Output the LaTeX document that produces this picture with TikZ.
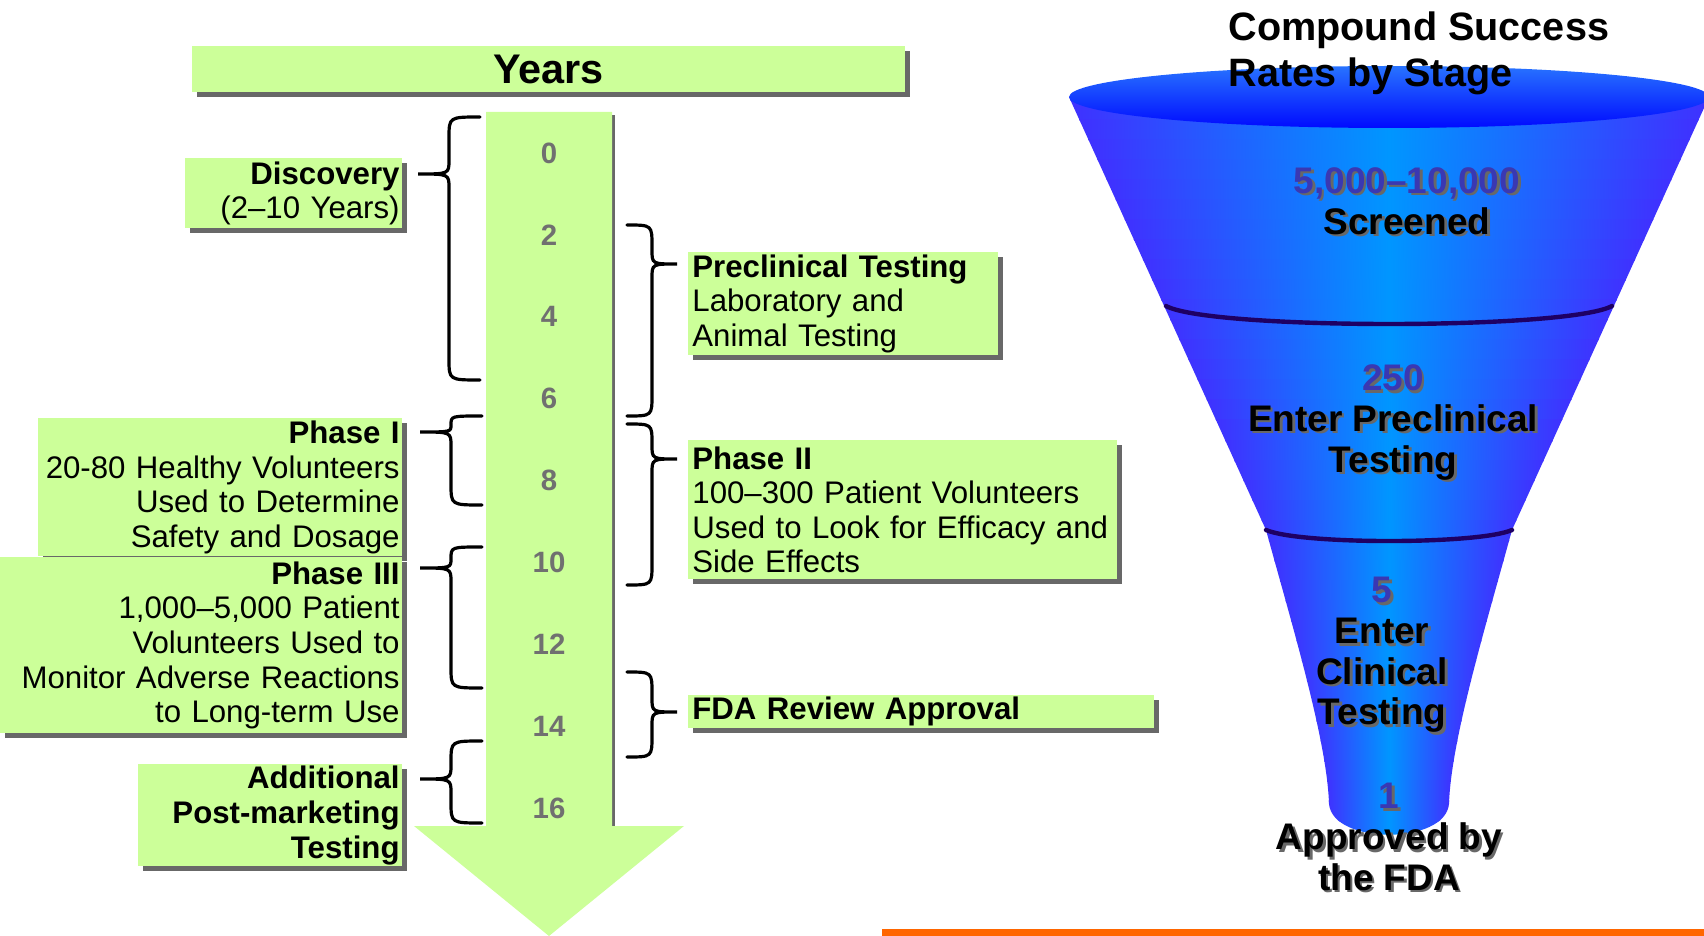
\documentclass[tikz,border=0pt]{standalone}
\usepackage{fontspec}
\setmainfont{Liberation Sans}
\usetikzlibrary{shadows}

\definecolor{boxgreen}{RGB}{204,255,153}
\definecolor{shadowgray}{RGB}{104,104,104}
\definecolor{numgray}{RGB}{112,112,112}
\definecolor{funedge}{RGB}{64,48,255}
\definecolor{funmid}{RGB}{0,150,255}
\definecolor{rimtop}{RGB}{40,115,255}
\definecolor{rimbottom}{RGB}{0,10,255}
\definecolor{ringline}{RGB}{30,0,100}
\definecolor{numblue}{RGB}{58,56,178}
\definecolor{barorange}{RGB}{255,102,0}

\tikzset{
  box/.style={fill=boxgreen, inner ysep=0pt, font={\fontsize{15.6pt}{17.3pt}\selectfont},
    general shadow={fill=shadowgray, shadow xshift=2.5pt, shadow yshift=-2.5pt}},
  lbox/.style={box, align=right, inner xsep=1pt, anchor=north east},
  rbox/.style={box, align=left, inner xsep=2pt, anchor=north west},
  yearnum/.style={text=numgray, font={\bfseries\fontsize{14.7pt}{16pt}\selectfont}},
  stage/.style={align=center, inner sep=0pt, font={\bfseries\fontsize{18.5pt}{20.3pt}\selectfont}},
  bracket/.style={line width=1.6pt, line cap=round},
  ring/.style={ringline, line width=2.2pt, line cap=round}
}

% curly brace: x of the ends, top y, tip y, bottom y, signed depth
\newcommand{\timebrace}[5]{%
  \pgfmathsetmacro\bsp{#1+#5/2}
  \pgfmathsetmacro\btip{#1+#5}
  \pgfmathsetmacro\rtop{min(21,0.55*(#3-#2))}
  \pgfmathsetmacro\ttop{min(14,0.45*(#3-#2))}
  \pgfmathsetmacro\rbot{min(21,0.55*(#4-#3))}
  \pgfmathsetmacro\tbot{min(14,0.45*(#4-#3))}
  \draw[bracket] (#1,#2) .. controls ({\bsp},#2) .. ({\bsp},{#2+\rtop})
    -- ({\bsp},{#3-\ttop}) .. controls ({\bsp},#3) .. ({\btip},#3)
    .. controls ({\bsp},#3) .. ({\bsp},{#3+\tbot})
    -- ({\bsp},{#4-\rbot}) .. controls ({\bsp},#4) .. (#1,#4);
}

% funnel label with a grey drop copy behind it
\newcommand{\stagelabel}[5]{%
  \node[stage, text=shadowgray] at ({#2+2.5},{#3+2.5}) {#4\\#5};
  \node[stage] (#1) at (#2,#3) {\textcolor{numblue}{#4}\\#5};
}

\begin{document}
\begin{tikzpicture}[x=0.5pt,y=-0.5pt]
    \useasboundingbox (0,0) rectangle (1704,936);

    % time axis
    \node[box, minimum width=356.5pt, minimum height=23pt, inner xsep=0pt,
      font={\bfseries\fontsize{20.7pt}{24pt}\selectfont}] (years) at (548.5,69) {Years};
    \fill[shadowgray] (489,115) rectangle (615,826);
    \fill[boxgreen] (486,112) -- (612,112) -- (612,826) -- (684,826) -- (549,936)
      -- (414,826) -- (486,826) -- cycle;
    \foreach \yr [count=\i from 0] in {0,2,...,16}
      \node[yearnum] (yr\yr) at (549,{153+81.9*\i}) {\yr};

    % braces
    \timebrace{480}{117}{174}{380}{-62}
    \timebrace{482}{416}{432}{505}{-62}
    \timebrace{482}{547}{568}{688}{-62}
    \timebrace{482}{741}{779}{823}{-62}
    \timebrace{627}{225}{264}{416}{50}
    \timebrace{627}{424}{459}{585}{50}
    \timebrace{627}{672}{712}{757}{50}

    % stages
    \node[lbox, text width=106.5pt, minimum height=35pt] (discovery) at (402,158)
      {\textbf{Discovery}\\(2–10 Years)};
    \node[lbox, text width=180pt, minimum height=69pt] (phase1) at (402,418)
      {\textbf{Phase I}\\20-80 Healthy Volunteers\\Used to Determine\\Safety and Dosage};
    \node[lbox, text width=199pt, minimum height=88pt] (phase3) at (402,557)
      {\textbf{Phase III}\\1,000–5,000 Patient\\Volunteers Used to\\Monitor Adverse Reactions\\to Long-term Use};
    \node[lbox, text width=130pt, minimum height=51pt] (postmarket) at (402,764)
      {\textbf{Additional}\\\textbf{Post-marketing}\\\textbf{Testing}};
    \node[rbox, text width=151pt, minimum height=51.5pt] (preclinical) at (688,252)
      {\textbf{Preclinical Testing}\\Laboratory and\\Animal Testing};
    \node[rbox, text width=210.5pt, minimum height=69.5pt] (phase2) at (688,440)
      {\textbf{Phase II}\\100–300 Patient Volunteers\\Used to Look for Efficacy and\\Side Effects};
    \node[rbox, text width=229pt, minimum height=16.5pt] (fdareview) at (688,695)
      {\textbf{FDA Review Approval}};

    % funnel body
    \begin{scope}
      \clip (1069,97) -- (1266,530) .. controls (1292,625) and (1327,740) .. (1329,804)
        .. controls (1333,845) and (1445,845) .. (1449,804)
        .. controls (1451,740) and (1486,625) .. (1512,530) -- (1709,97) -- cycle;
      \foreach \y in {80,100,...,840} {
        \pgfmathsetmacro\w{\y<530 ? 322-0.455*(\y-97) : max(62,125-0.25*(\y-530))}
        \shade[left color=funedge, right color=funedge, middle color=funmid]
          ({1389-\w},\y) rectangle ({1389+\w},\y+21);
      }
    \end{scope}
    \shade[top color=rimtop, bottom color=rimbottom] (1389,97) ellipse [x radius=320, y radius=31];
    \draw[ring] (1166,306) .. controls (1210,330) and (1568,330) .. (1612,306);
    \draw[ring] (1266,530) .. controls (1300,544.7) and (1478,544.7) .. (1512,530);

    \stagelabel{screened}{1407}{201}{5,000–10,000}{Screened}
    \stagelabel{preclin}{1393}{422.5}{250}{Enter Preclinical\\Testing}
    \stagelabel{clinical}{1382}{655}{5}{Enter\\Clinical\\Testing}
    \stagelabel{approved}{1389}{837}{1}{Approved by\\the FDA}

    \node[anchor=west, align=left, inner sep=0pt,
      font={\bfseries\fontsize{19.8pt}{23pt}\selectfont}] (title) at (1228,53)
      {Compound Success\\Rates by Stage};

    \fill[barorange] (882,929) rectangle (1704,936);
\end{tikzpicture}
\end{document}
